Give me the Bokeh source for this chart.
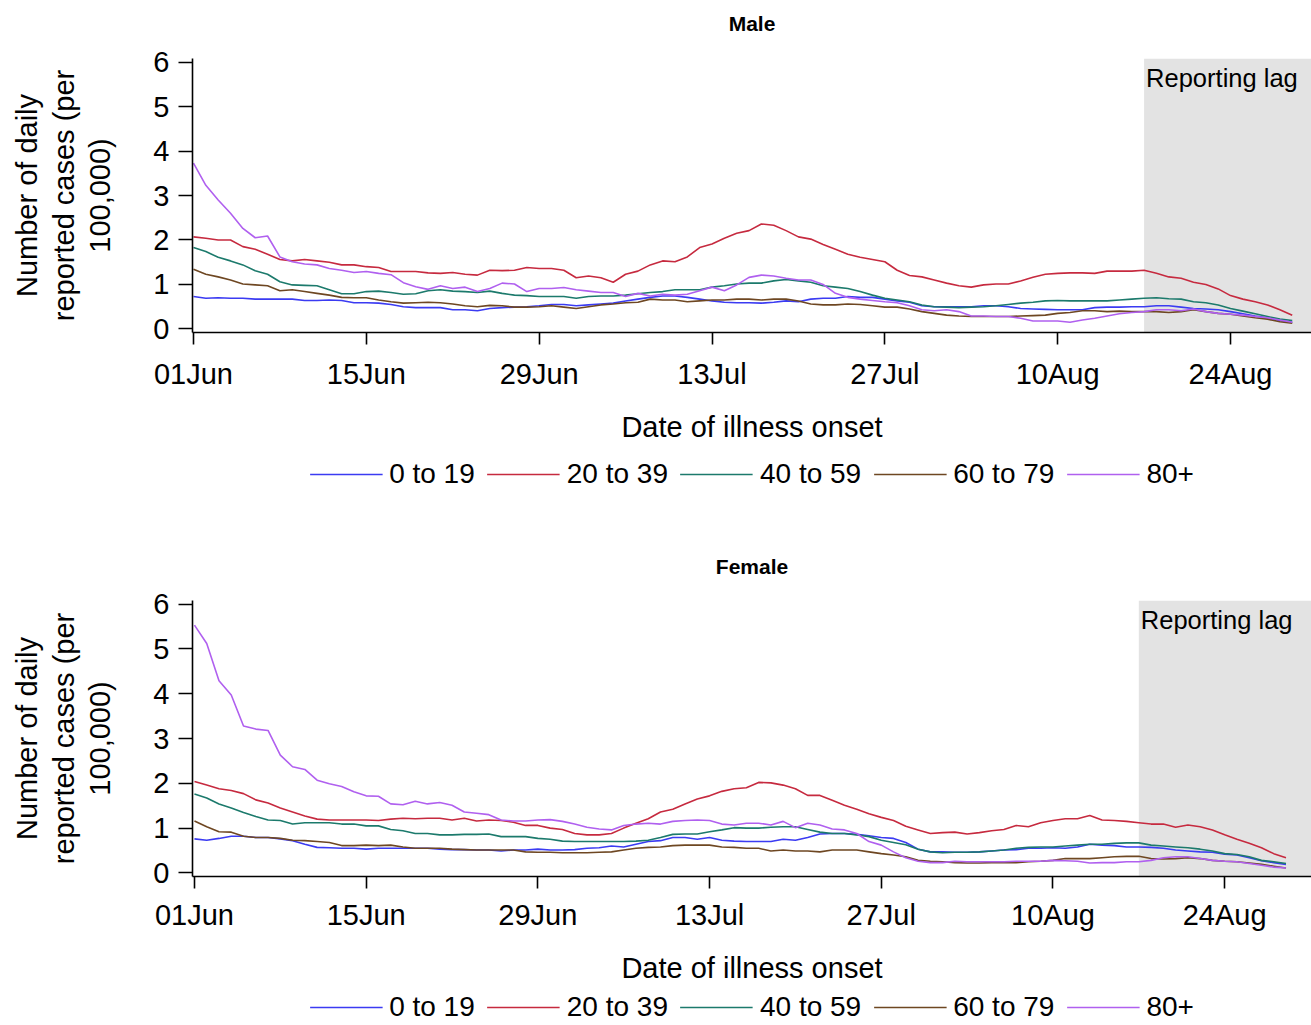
from datetime import datetime, timedelta
from bokeh.plotting import figure
from bokeh.models import (ColumnDataSource, FixedTicker, DatetimeTickFormatter, Range1d,
                          BoxAnnotation, Label, Legend, LegendItem)
from bokeh.layouts import column
from bokeh.embed import file_html
from bokeh.resources import INLINE

# ---------------- data ----------------
first_day = "2020-06-01"
n_days = 90
lag_start = "2020-08-17"
tick_dates = ["2020-06-01", "2020-06-15", "2020-06-29", "2020-07-13",
              "2020-07-27", "2020-08-10", "2020-08-24"]
age_groups = ["0 to 19", "20 to 39", "40 to 59", "60 to 79", "80+"]
colors = ["#3b3bf2", "#c62a3f", "#1c7a6c", "#6e4722", "#b060ef"]

male_0_19 = [0.73, 0.69, 0.70, 0.69, 0.69, 0.67, 0.67, 0.67, 0.67, 0.64, 0.64, 0.65, 0.64, 0.59, 0.59,
             0.58, 0.55, 0.50, 0.48, 0.48, 0.48, 0.43, 0.43, 0.41, 0.46, 0.48, 0.49, 0.50, 0.52, 0.55,
             0.55, 0.52, 0.54, 0.56, 0.58, 0.63, 0.67, 0.71, 0.74, 0.74, 0.71, 0.67, 0.63, 0.60, 0.59,
             0.59, 0.58, 0.60, 0.63, 0.61, 0.67, 0.69, 0.69, 0.73, 0.71, 0.71, 0.67, 0.63, 0.60,
             0.52, 0.50, 0.50, 0.50, 0.50, 0.52, 0.52, 0.50, 0.46, 0.45, 0.44, 0.43, 0.43, 0.43, 0.48,
             0.49, 0.49, 0.50, 0.50, 0.52, 0.52, 0.49, 0.46, 0.45, 0.43, 0.39, 0.34, 0.29, 0.25, 0.19, 0.15]
male_20_39 = [2.07, 2.04, 2.00, 2.00, 1.85, 1.79, 1.68, 1.56, 1.53, 1.56, 1.53, 1.50, 1.44, 1.44, 1.40,
              1.38, 1.29, 1.29, 1.29, 1.26, 1.25, 1.27, 1.23, 1.21, 1.32, 1.31, 1.32, 1.38, 1.36, 1.36,
              1.32, 1.15, 1.19, 1.15, 1.05, 1.23, 1.30, 1.44, 1.53, 1.51, 1.62, 1.83, 1.91, 2.04, 2.15,
              2.21, 2.36, 2.33, 2.21, 2.07, 2.02, 1.90, 1.79, 1.68, 1.61, 1.56, 1.51, 1.32, 1.20,
              1.17, 1.10, 1.03, 0.97, 0.94, 0.99, 1.01, 1.01, 1.08, 1.16, 1.23, 1.25, 1.26, 1.26, 1.25,
              1.30, 1.30, 1.30, 1.32, 1.25, 1.17, 1.14, 1.05, 1.00, 0.90, 0.75, 0.67, 0.61, 0.54, 0.43, 0.31]
male_40_59 = [1.83, 1.74, 1.61, 1.53, 1.44, 1.31, 1.23, 1.06, 0.99, 0.98, 0.97, 0.88, 0.79, 0.79, 0.84,
              0.85, 0.82, 0.78, 0.79, 0.86, 0.88, 0.85, 0.84, 0.82, 0.85, 0.80, 0.76, 0.75, 0.73, 0.73,
              0.73, 0.69, 0.73, 0.74, 0.74, 0.76, 0.79, 0.82, 0.84, 0.88, 0.88, 0.88, 0.94, 0.97, 1.01,
              1.03, 1.03, 1.08, 1.11, 1.08, 1.05, 0.97, 0.94, 0.91, 0.84, 0.76, 0.69, 0.65, 0.61,
              0.54, 0.50, 0.49, 0.48, 0.49, 0.50, 0.52, 0.55, 0.58, 0.60, 0.63, 0.64, 0.63, 0.63, 0.63,
              0.63, 0.65, 0.67, 0.69, 0.70, 0.68, 0.67, 0.61, 0.59, 0.54, 0.46, 0.40, 0.34, 0.28, 0.22, 0.19]
male_60_79 = [1.34, 1.23, 1.17, 1.10, 1.01, 0.99, 0.97, 0.86, 0.88, 0.84, 0.80, 0.76, 0.71, 0.70, 0.70,
              0.65, 0.61, 0.58, 0.59, 0.60, 0.59, 0.56, 0.52, 0.50, 0.53, 0.52, 0.49, 0.49, 0.50, 0.52,
              0.49, 0.46, 0.50, 0.54, 0.56, 0.59, 0.60, 0.67, 0.65, 0.65, 0.61, 0.63, 0.65, 0.65, 0.67,
              0.67, 0.65, 0.67, 0.67, 0.63, 0.56, 0.54, 0.54, 0.56, 0.55, 0.52, 0.49, 0.49, 0.45,
              0.39, 0.35, 0.31, 0.29, 0.28, 0.28, 0.28, 0.28, 0.29, 0.30, 0.31, 0.35, 0.37, 0.41, 0.41,
              0.39, 0.40, 0.39, 0.39, 0.39, 0.37, 0.39, 0.43, 0.39, 0.35, 0.33, 0.29, 0.25, 0.22, 0.16, 0.13]
male_80p = [3.73, 3.23, 2.90, 2.60, 2.26, 2.05, 2.09, 1.62, 1.51, 1.46, 1.44, 1.36, 1.32, 1.27, 1.29,
            1.25, 1.22, 1.04, 0.95, 0.89, 0.97, 0.91, 0.94, 0.84, 0.91, 1.03, 1.01, 0.84, 0.91, 0.91,
            0.93, 0.88, 0.85, 0.82, 0.82, 0.73, 0.80, 0.74, 0.78, 0.76, 0.78, 0.86, 0.94, 0.86, 0.99,
            1.16, 1.21, 1.19, 1.14, 1.10, 1.10, 1.00, 0.80, 0.71, 0.67, 0.64, 0.61, 0.59, 0.52,
            0.43, 0.41, 0.43, 0.39, 0.29, 0.29, 0.28, 0.28, 0.24, 0.18, 0.18, 0.18, 0.15, 0.20, 0.24,
            0.29, 0.34, 0.37, 0.39, 0.43, 0.43, 0.41, 0.45, 0.39, 0.35, 0.33, 0.31, 0.28, 0.25, 0.20, 0.15]

female_0_19 = [0.76, 0.73, 0.77, 0.82, 0.82, 0.79, 0.79, 0.76, 0.72, 0.64, 0.57, 0.56, 0.55, 0.55, 0.53,
               0.55, 0.55, 0.55, 0.55, 0.55, 0.53, 0.52, 0.52, 0.51, 0.51, 0.49, 0.51, 0.51, 0.53, 0.51,
               0.51, 0.52, 0.55, 0.56, 0.60, 0.58, 0.64, 0.70, 0.72, 0.79, 0.79, 0.75, 0.79, 0.73, 0.71,
               0.70, 0.70, 0.70, 0.75, 0.73, 0.79, 0.87, 0.88, 0.88, 0.86, 0.83, 0.79, 0.77, 0.68,
               0.53, 0.47, 0.47, 0.46, 0.46, 0.47, 0.49, 0.51, 0.52, 0.55, 0.55, 0.56, 0.55, 0.58, 0.64,
               0.62, 0.61, 0.58, 0.58, 0.57, 0.55, 0.51, 0.49, 0.47, 0.46, 0.42, 0.40, 0.34, 0.27, 0.23, 0.19]
female_20_39 = [2.04, 1.96, 1.88, 1.84, 1.77, 1.63, 1.56, 1.45, 1.36, 1.27, 1.20, 1.18, 1.18, 1.18, 1.18,
                1.17, 1.20, 1.22, 1.21, 1.22, 1.22, 1.18, 1.22, 1.16, 1.18, 1.17, 1.13, 1.06, 1.06, 1.00,
                0.97, 0.88, 0.85, 0.85, 0.88, 1.00, 1.11, 1.21, 1.36, 1.42, 1.54, 1.65, 1.72, 1.82, 1.88,
                1.90, 2.02, 2.01, 1.96, 1.88, 1.73, 1.73, 1.62, 1.51, 1.42, 1.32, 1.24, 1.17, 1.04,
                0.96, 0.88, 0.90, 0.91, 0.87, 0.90, 0.94, 0.97, 1.06, 1.03, 1.12, 1.17, 1.21, 1.21, 1.28,
                1.18, 1.17, 1.15, 1.12, 1.09, 1.09, 1.02, 1.07, 1.03, 0.96, 0.85, 0.75, 0.66, 0.56, 0.43, 0.34]
female_40_59 = [1.76, 1.67, 1.54, 1.45, 1.35, 1.26, 1.18, 1.17, 1.09, 1.12, 1.12, 1.12, 1.09, 1.09, 1.05,
                1.05, 0.97, 0.94, 0.88, 0.88, 0.85, 0.85, 0.86, 0.86, 0.87, 0.81, 0.81, 0.81, 0.77, 0.75,
                0.71, 0.70, 0.70, 0.70, 0.70, 0.70, 0.71, 0.73, 0.79, 0.86, 0.87, 0.87, 0.92, 0.96, 1.01,
                1.00, 1.00, 1.02, 1.03, 1.03, 0.97, 0.91, 0.88, 0.88, 0.85, 0.81, 0.73, 0.68, 0.63,
                0.53, 0.47, 0.45, 0.46, 0.46, 0.47, 0.49, 0.51, 0.55, 0.57, 0.58, 0.58, 0.60, 0.62, 0.64,
                0.64, 0.66, 0.67, 0.67, 0.62, 0.60, 0.58, 0.56, 0.53, 0.49, 0.43, 0.41, 0.36, 0.28, 0.25, 0.21]
female_60_79 = [1.16, 1.03, 0.92, 0.91, 0.82, 0.79, 0.79, 0.77, 0.73, 0.72, 0.70, 0.68, 0.61, 0.61, 0.62,
                0.61, 0.62, 0.58, 0.55, 0.55, 0.55, 0.53, 0.52, 0.51, 0.51, 0.51, 0.51, 0.47, 0.46, 0.46,
                0.45, 0.45, 0.45, 0.46, 0.47, 0.51, 0.55, 0.57, 0.58, 0.61, 0.62, 0.62, 0.62, 0.58, 0.57,
                0.55, 0.55, 0.49, 0.51, 0.49, 0.49, 0.47, 0.51, 0.51, 0.51, 0.47, 0.43, 0.40, 0.36,
                0.28, 0.26, 0.25, 0.23, 0.22, 0.22, 0.23, 0.23, 0.23, 0.25, 0.26, 0.28, 0.32, 0.32, 0.32,
                0.34, 0.36, 0.37, 0.37, 0.32, 0.31, 0.32, 0.34, 0.32, 0.28, 0.26, 0.25, 0.22, 0.19, 0.15, 0.11]
female_80p = [5.53, 5.12, 4.29, 3.97, 3.28, 3.21, 3.18, 2.63, 2.37, 2.31, 2.07, 1.99, 1.93, 1.81, 1.72,
              1.71, 1.54, 1.52, 1.60, 1.54, 1.57, 1.51, 1.36, 1.33, 1.30, 1.18, 1.16, 1.16, 1.18, 1.19,
              1.15, 1.09, 1.02, 0.98, 0.96, 1.06, 1.09, 1.11, 1.09, 1.15, 1.17, 1.18, 1.17, 1.09, 1.07,
              1.11, 1.11, 1.07, 1.15, 1.01, 1.11, 1.07, 0.98, 0.96, 0.88, 0.70, 0.62, 0.47, 0.34,
              0.26, 0.23, 0.23, 0.26, 0.25, 0.25, 0.25, 0.25, 0.26, 0.26, 0.26, 0.28, 0.27, 0.26, 0.22,
              0.23, 0.23, 0.25, 0.25, 0.28, 0.34, 0.36, 0.36, 0.32, 0.28, 0.26, 0.25, 0.21, 0.17, 0.13, 0.11]

male_series = [male_0_19, male_20_39, male_40_59, male_60_79, male_80p]
female_series = [female_0_19, female_20_39, female_40_59, female_60_79, female_80p]

FONT = "Liberation Sans"
LW = 1.6
d0 = datetime.fromisoformat(first_day)
dates = [d0 + timedelta(days=i) for i in range(n_days)]
ms = lambda d: (d - datetime(1970, 1, 1)).total_seconds() * 1000.0
tick_ms = [ms(datetime.fromisoformat(t)) for t in tick_dates]


def blank_strip(height, left):
    s = figure(width=1311, height=height, output_backend="svg", toolbar_location=None,
               x_range=Range1d(0, 1), y_range=Range1d(0, height),
               min_border_left=left, min_border_right=0, min_border_top=0, min_border_bottom=0)
    s.axis.visible = False
    s.grid.visible = False
    s.outline_line_color = None
    return s


def make_title_strip(text, height, center_from_top, left):
    s = blank_strip(height, left)
    s.add_layout(Label(x=0.5, y=height - center_from_top, text=text, text_align="center",
                       text_baseline="middle", text_font=FONT, text_font_size="21px",
                       text_font_style="bold", text_color="black"))
    return s


def make_panel(title, series, height, top, bottom, left, x_pad, tick_standoff, title_standoff):
    p = figure(width=1311, height=height, x_axis_type="datetime",
               output_backend="svg", toolbar_location=None,
               min_border_left=left, min_border_right=0,
               min_border_top=top, min_border_bottom=bottom)
    p.x_range = Range1d(ms(d0 - timedelta(days=x_pad[0])), ms(d0 + timedelta(days=x_pad[1])))
    p.y_range = Range1d(-0.08, 6.08)
    p.grid.visible = False
    p.outline_line_color = None

    if title:
        p.title.text = title
        p.title.align = "center"
        p.title.text_font = FONT
        p.title.text_font_size = "21px"
        p.title.text_font_style = "bold"
        p.title.text_color = "black"
        p.title.standoff = title_standoff

    box = BoxAnnotation(left=ms(datetime.fromisoformat(lag_start)), fill_color="#e3e3e3",
                        fill_alpha=1.0, line_color=None, level="underlay")
    p.add_layout(box)
    p.add_layout(Label(x=ms(datetime.fromisoformat(lag_start)), y=5.65, x_offset=2,
                       text="Reporting lag", text_font=FONT, text_font_size="25.5px",
                       text_baseline="middle", text_color="black"))

    sources = []
    for vals, col in zip(series, colors):
        src = ColumnDataSource(dict(x=dates, y=vals))
        p.line("x", "y", source=src, line_color=col, line_width=LW)
        sources.append(src)

    xa = p.xaxis[0]
    xa.ticker = FixedTicker(ticks=tick_ms)
    xa.formatter = DatetimeTickFormatter(days="%d%b", months="%d%b", years="%d%b",
                                         hours="%d%b", minutes="%d%b")
    xa.axis_label = "Date of illness onset"
    ya = p.yaxis[0]
    ya.ticker = FixedTicker(ticks=[0, 1, 2, 3, 4, 5, 6])
    ya.axis_label = "Number of daily\nreported cases (per\n100,000)"
    for ax in (xa, ya):
        ax.axis_line_color = "black"
        ax.axis_line_width = 1.6
        ax.major_tick_line_color = "black"
        ax.major_tick_line_width = 1.6
        ax.major_tick_in = 0
        ax.minor_tick_line_color = None
        ax.major_label_text_font = FONT
        ax.major_label_text_font_size = "29px"
        ax.major_label_text_color = "black"
        ax.axis_label_text_font = FONT
        ax.axis_label_text_font_size = "29px"
        ax.axis_label_text_font_style = "normal"
        ax.axis_label_text_color = "black"
    xa.major_tick_out = 12
    xa.major_label_standoff = tick_standoff
    xa.axis_label_standoff = 18
    ya.major_tick_out = 14
    ya.major_label_standoff = 9
    ya.axis_label_standoff = 34
    ya.axis_label_text_line_height = 1.15
    return p, sources


def make_legend_fig(height, left, sources):
    # legend strip: the series are drawn here too but the view window lies
    # before the first date, so only the legend itself is visible
    lf = figure(width=1311, height=height, output_backend="svg", toolbar_location=None,
                x_axis_type="datetime",
                x_range=Range1d(ms(d0 - timedelta(days=20)), ms(d0 - timedelta(days=10))),
                y_range=Range1d(0, 1),
                min_border_left=left, min_border_right=0, min_border_top=0, min_border_bottom=0)
    lf.axis.visible = False
    lf.grid.visible = False
    lf.outline_line_color = None
    items = []
    for name, col, src in zip(age_groups, colors, sources):
        r = lf.line("x", "y", source=src, line_color=col, line_width=LW)
        items.append(LegendItem(label=name, renderers=[r]))
    leg = Legend(items=items, orientation="horizontal", location="center",
                 glyph_width=73, glyph_height=20, label_standoff=7, spacing=12,
                 padding=0, margin=0, border_line_color=None,
                 background_fill_alpha=0, label_text_font=FONT,
                 label_text_font_size="28px", label_text_color="black")
    lf.add_layout(leg, "center")
    return lf


t1 = make_title_strip("Male", 44, 23, 192)
p1, s1 = make_panel(None, male_series, 406, 14, 118, 192, (0.08, 90.56), 13, 0)
l1 = make_legend_fig(48, 192, s1)
p2, s2 = make_panel("Female", female_series, 490, 102, 112, 190, (0.16, 91.08), 10, 46)
l2 = make_legend_fig(37, 190, s2)
layout = column(t1, p1, l1, p2, l2, spacing=0)
open("out.html", "w").write(file_html(layout, INLINE))
